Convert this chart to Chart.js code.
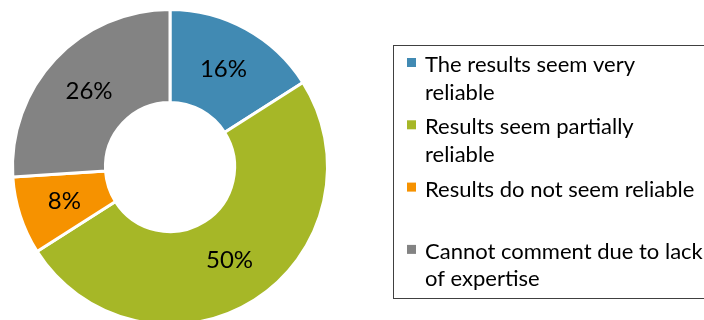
<!DOCTYPE html>
<html>
<head>
<meta charset="utf-8">
<script src="https://cdn.jsdelivr.net/npm/chart.js@4/dist/chart.umd.min.js"></script>
<style>
  html, body { margin: 0; padding: 0; background: #fff; }
  body { width: 704px; height: 320px; overflow: hidden; position: relative; }
  #wrap { position: absolute; left: 0; top: 0; width: 704px; height: 340px; }
</style>
</head>
<body>
<div id="wrap"><canvas id="reliability" width="704" height="340"></canvas></div>
<script>
// answers, in drawing order (clockwise from 12 o'clock)
const answers = [
    ['The results seem very', 'reliable'],
    ['Results seem partially', 'reliable'],
    ['Results do not seem reliable'],
    ['Cannot comment due to lack', 'of expertise']
];
const shares = [16, 50, 8, 26];
const sliceColors = ['#418ab3', '#a6b727', '#f69200', '#838383'];

const labelFont = '24px Lato, "Open Sans", sans-serif';
const legendFont = '22px Lato, "Open Sans", sans-serif';

// percent text in the middle of each ring segment
const sliceLabels = {
    id: 'sliceLabels',
    afterDatasetsDraw(chart) {
        let ctx = chart.ctx;
        let meta = chart.getDatasetMeta(0);
        ctx.save();
        ctx.font = labelFont;
        ctx.fillStyle = '#000';
        ctx.textAlign = 'center';
        ctx.textBaseline = 'middle';
        meta.data.forEach((arc, i) => {
            let p = arc.tooltipPosition();
            ctx.fillText(chart.data.datasets[0].data[i] + '%', p.x, p.y);
        });
        ctx.restore();
    }
};

// boxed legend on the right, two line slots per entry
const boxLegend = {
    id: 'boxLegend',
    afterDraw(chart) {
        let ctx = chart.ctx;
        let left = 393.5, top = 45.5;
        ctx.save();
        ctx.strokeStyle = '#404040';
        ctx.lineWidth = 1;
        ctx.strokeRect(left, top, 400, 253);

        ctx.font = legendFont;
        ctx.textBaseline = 'alphabetic';
        ctx.textAlign = 'left';
        let firstBase = 72;
        let slot = 62.3;
        let lineH = 27.5;
        chart.data.labels.forEach((lines, i) => {
            let base = firstBase + i * slot;
            ctx.fillStyle = chart.data.datasets[0].backgroundColor[i];
            ctx.fillRect(407, base - 14, 9, 9);
            ctx.fillStyle = '#000';
            lines.forEach((txt, j) => {
                ctx.fillText(txt, 425, base + j * lineH);
            });
        });
        ctx.restore();
    }
};

let reliabilityChart = new Chart(document.getElementById('reliability'), {
    type: 'doughnut',
    data: {
        labels: answers,
        datasets: [{
            data: shares,
            backgroundColor: sliceColors,
            borderColor: '#ffffff',
            borderWidth: 3
        }]
    },
    options: {
        responsive: false,
        animation: false,
        devicePixelRatio: 1,
        cutout: '41%',
        layout: {
            padding: { left: 11, top: 8, right: 375, bottom: 14 }
        },
        plugins: {
            legend: { display: false },
            tooltip: { enabled: false }
        }
    },
    plugins: [sliceLabels, boxLegend]
});
</script>
</body>
</html>
